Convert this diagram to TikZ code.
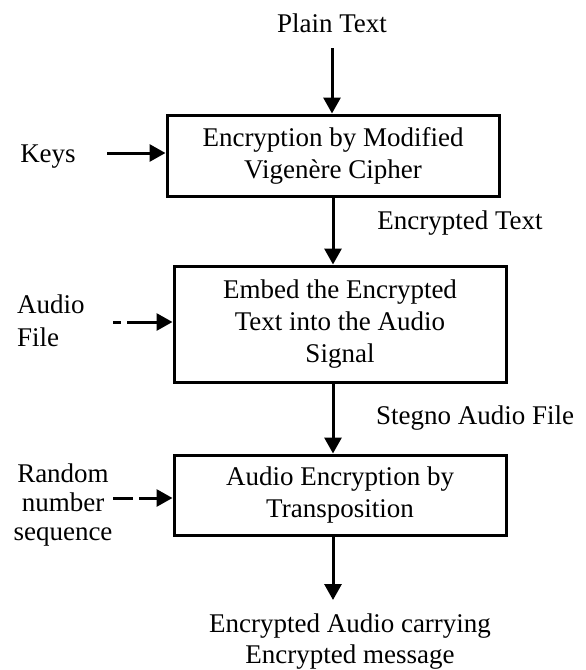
\documentclass[tikz,border=0pt]{standalone}
\usepackage{fontspec}
\setmainfont{Liberation Serif}
\usetikzlibrary{arrows.meta,calc}
\begin{document}
\begin{tikzpicture}[x=1pt,y=-1pt,
  every node/.style={font=\fontsize{27}{31}\selectfont, inner sep=0pt},
  procbox/.style={draw, line width=3pt, align=center},
  arr/.style={line width=3pt, -{Triangle[length=16pt,width=17pt]}},
  darrA/.style={arr, dash pattern=on 8pt off 6pt on 200pt},
  darrB/.style={arr, dash pattern=on 20pt off 6pt on 200pt}]
\useasboundingbox (0,0) rectangle (586,670);
\node (plain) at (332,23) {Plain Text};
\node[procbox, minimum width=332pt, minimum height=81pt] (box1) at (333,155.5)
  {Encryption by Modified\\[1pt]Vigenère Cipher};
\node[procbox, minimum width=332pt, minimum height=116pt] (box2) at (340,324)
  {Embed the Encrypted\\[1pt]Text into the Audio\\[1pt]Signal};
\node[procbox, minimum width=332pt, minimum height=80pt] (box3) at (340,495)
  {Audio Encryption by\\[1pt]Transposition};
\node (keys) at (48,157) {Keys};
\node[align=left, anchor=west, font=\fontsize{27}{33}\selectfont] (audio) at (17,321) {Audio\\File};
\node[align=center, font=\fontsize{27}{29}\selectfont] (rand) at (63,505) {Random\\number\\sequence};
\node (enctext) at (460,223) {Encrypted Text};
\node (stegno) at (475,418) {Stegno Audio File};
\node[align=center] (out) at (350,642) {Encrypted Audio carrying\\Encrypted message};
\coordinate (ptop) at (332,48);
\coordinate (kin) at (107,153);
\coordinate (ain) at (113,322);
\coordinate (rin) at (113,498);
\coordinate (outtop) at (333,600);
\draw[arr] (ptop) -- (ptop |- box1.north);
\draw[arr] (box1.south) -- (box1.south |- box2.north);
\draw[arr] (box1.south |- box2.south) -- (box1.south |- box3.north);
\draw[arr] (box1.south |- box3.south) -- (outtop);
\draw[arr] (kin) -- (kin -| box1.west);
\draw[darrA] (ain) -- (ain -| box2.west);
\draw[darrB] (rin) -- (rin -| box3.west);
\end{tikzpicture}
\end{document}
